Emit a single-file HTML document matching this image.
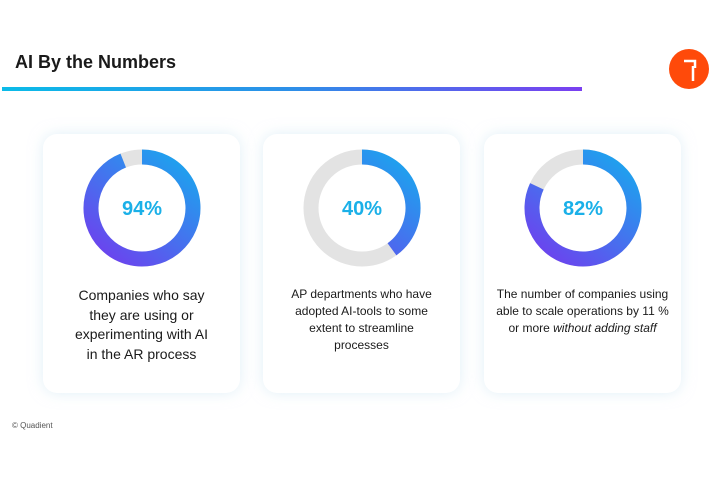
<!DOCTYPE html>
<html><head><meta charset="utf-8"><style>
body{margin:0;width:720px;height:480px;background:#fff;font-family:"Liberation Sans",sans-serif;position:relative;overflow:hidden}
.title{position:absolute;left:15px;top:52px;font-size:18px;font-weight:bold;color:#1a1a1a}
.bar{position:absolute;left:2px;top:87px;width:580px;height:4px;background:linear-gradient(90deg,#0bbbe8,#2d8fe8 50%,#7a3ff0)}
.logo{position:absolute;left:669px;top:49px;width:40px;height:40px;border-radius:50%;background:#ff4a0a}
.card{position:absolute;top:134px;width:197px;height:259px;background:#fff;border-radius:14px;box-shadow:0 0 14px rgba(200,225,240,.55)}
.txt{position:absolute;left:0;width:100%;text-align:center;color:#1a1a1a}
.foot{position:absolute;left:12px;top:421px;font-size:8px;color:#555}
svg text{font-family:"Liberation Sans",sans-serif;font-weight:bold;font-size:20px;fill:#1bb0e8}
</style></head><body>
<div class="title">AI By the Numbers</div>
<div class="bar"></div>
<div class="logo"><svg width="40" height="40"><path d="M15 12 H26 V19 M24 17 V32" stroke="#fff" stroke-width="2.5" fill="none"/></svg></div>
<div class="card" style="left:43px"><svg id="d0" width="197" height="150" style="position:absolute;left:0;top:0"></svg>
<div class="txt" style="top:152px;font-size:14px;line-height:19.5px">Companies who say<br>they are using or<br>experimenting with AI<br>in the AR process</div></div>
<div class="card" style="left:263px"><svg id="d1" width="197" height="150" style="position:absolute;left:0;top:0"></svg>
<div class="txt" style="top:152px;font-size:12px;line-height:17px">AP departments who have<br>adopted AI-tools to some<br>extent to streamline<br>processes</div></div>
<div class="card" style="left:484px"><svg id="d2" width="197" height="150" style="position:absolute;left:0;top:0"></svg>
<div class="txt" style="top:152px;font-size:12px;line-height:17px">The number of companies using<br>able to scale operations by 11 %<br>or more <i>without adding staff</i></div></div>
<div class="foot">© Quadient</div>
<script>
const values=[94,40,82];
const labels=["94%","40%","82%"];
const NS="http://www.w3.org/2000/svg";
function pt(cx,cy,r,frac){const a=frac*2*Math.PI-Math.PI/2;return [cx+r*Math.cos(a),cy+r*Math.sin(a)];}
values.forEach((v,i)=>{
  const s=document.getElementById('d'+i);
  const cx=99,cy=74,r=51;
  s.innerHTML='<defs><linearGradient id="g'+i+'" gradientUnits="userSpaceOnUse" x1="'+(cx+r)+'" y1="'+(cy-r)+'" x2="'+(cx-r*0.6)+'" y2="'+(cy+r)+'"><stop offset="0" stop-color="#17aaee"/><stop offset="1" stop-color="#6a45ee"/></linearGradient></defs>';
  const bg=document.createElementNS(NS,'circle');
  
  
  bg.setAttribute('cx',cx);bg.setAttribute('cy',cy);bg.setAttribute('r',r);
  bg.setAttribute('fill','none');bg.setAttribute('stroke','#e3e3e3');bg.setAttribute('stroke-width',15);
  s.appendChild(bg);
  const f=v/100;
  const p0=pt(cx,cy,r,0),p1=pt(cx,cy,r,f);
  const a=document.createElementNS(NS,'path');
  
  
  a.setAttribute('d','M'+p0[0]+' '+p0[1]+' A'+r+' '+r+' 0 '+(f>0.5?1:0)+' 1 '+p1[0]+' '+p1[1]);
  a.setAttribute('fill','none');a.setAttribute('stroke','url(#g'+i+')');a.setAttribute('stroke-width',15);
  s.appendChild(a);
  const t=document.createElementNS(NS,'text');
  
  
  t.setAttribute('x',cx);t.setAttribute('y',cy+7);t.setAttribute('text-anchor','middle');
  t.textContent=labels[i];
  s.appendChild(t);
});
</script>
</body></html>
